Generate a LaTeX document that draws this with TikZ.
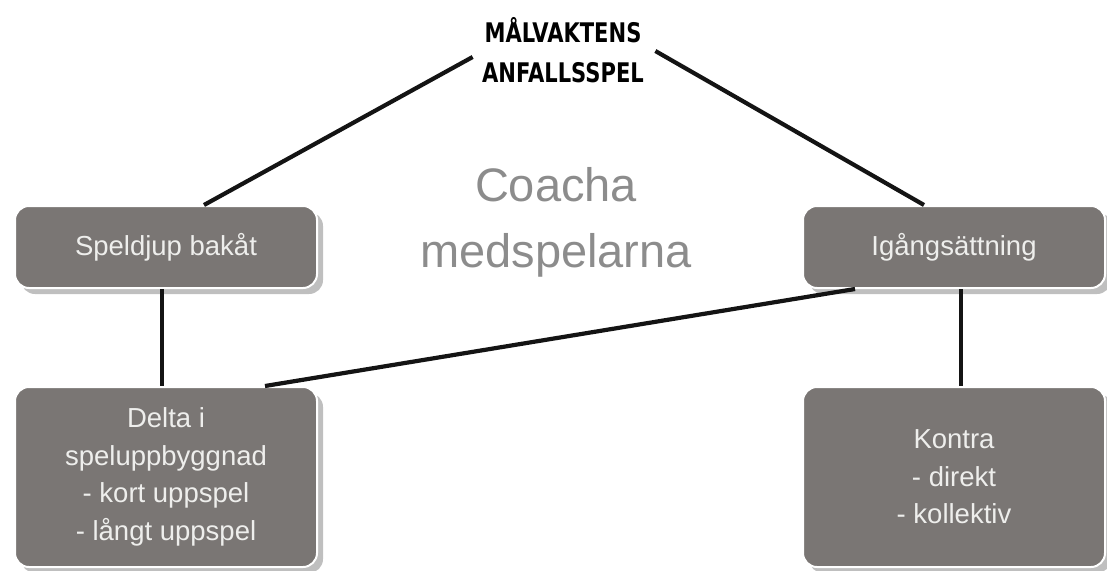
\documentclass[tikz,border=0pt]{standalone}
\usepackage{fontspec}
\setmainfont{Liberation Sans}
\newfontfamily\titlefont{DejaVu Sans}[FakeStretch=0.78]
\usepackage{tikz}
\usetikzlibrary{positioning,shadows,calc}
\definecolor{boxgray}{RGB}{122,118,116}
\definecolor{boxtext}{RGB}{238,238,236}
\definecolor{coachgray}{RGB}{140,140,140}

\begin{document}
\begin{tikzpicture}[
  x=1pt, y=-1pt,
  % Styles
  ruta/.style={draw=white, line width=2pt, rounded corners=14pt, fill=boxgray,
    text=boxtext, align=center, font=\fontsize{27.5}{37.5}\selectfont,
    minimum width=302pt, inner sep=4pt,
    drop shadow={shadow xshift=6pt, shadow yshift=-6pt, opacity=0.25, fill=black}},
  linje/.style={line width=4.2pt, draw=black!92},
  rubrik/.style={align=center, font=\titlefont\bfseries\fontsize{27}{40}\selectfont},
]
\useasboundingbox (0,0) rectangle (1107,570);

% === Rubrik ===
\node[rubrik] (titel) at (563,50) {MÅLVAKTENS\\ANFALLSSPEL};

% === Mitten ===
\node[align=center, text=coachgray, font=\fontsize{47}{66}\selectfont] (coacha) at (556,222) {Coacha\\medspelarna};

% === Rad 1 ===
\node[ruta, minimum height=82pt] (speldjup) at (166,247) {Speldjup bakåt};
\node[ruta, minimum height=82pt] (igang) at (954,247) {Igångsättning};

% === Rad 2 ===
\node[ruta, minimum height=180pt] (delta) at (166,477) {Delta i\\speluppbyggnad\\- kort uppspel\\- långt uppspel};
\node[ruta, minimum height=180pt] (kontra) at (954,477) {Kontra\\- direkt\\- kollektiv};

% === Linjer ===
\draw[linje] ([xshift=-6pt,yshift=-7pt]titel.west) -- ([xshift=38pt]speldjup.north);
\draw[linje] ([xshift=8pt,yshift=-1pt]titel.east) -- ([xshift=-30pt]igang.north);
\draw[linje] ([xshift=-4pt]speldjup.south) -- ([xshift=-4pt]delta.north);
\draw[linje] ([xshift=7pt]igang.south) -- ([xshift=7pt]kontra.north);
\draw[linje] ([xshift=-99pt]igang.south) -- ([xshift=99pt]delta.north);

\end{tikzpicture}
\end{document}
